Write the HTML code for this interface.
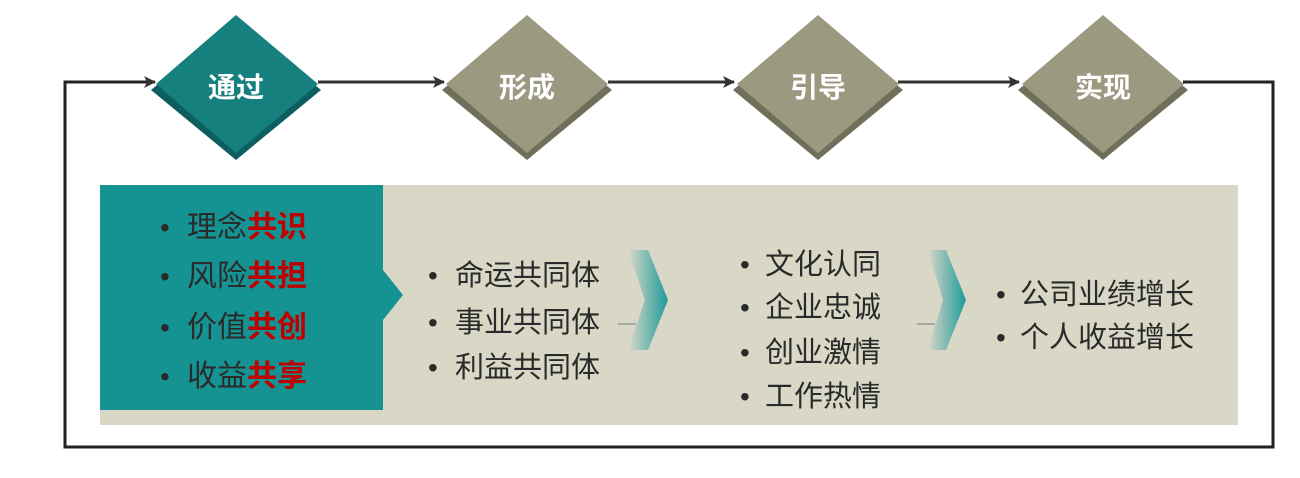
<!DOCTYPE html>
<html><head><meta charset="utf-8"><style>
body{margin:0;background:#fff;width:1300px;height:478px;overflow:hidden;position:relative;font-family:"Liberation Sans","Noto Sans CJK SC",sans-serif}
.t{position:absolute;white-space:nowrap;color:#2a2a2a;font-size:29px;line-height:34px}
.b{position:absolute;color:#2a2a2a;font-size:28px;line-height:34px;font-family:"Liberation Sans",sans-serif}
.r{color:#c00000;font-weight:bold}
</style></head><body>
<svg width="1300" height="478" style="position:absolute;left:0;top:0">
<defs>
<marker id="a" markerWidth="12" markerHeight="12" refX="11" refY="6" orient="auto" markerUnits="userSpaceOnUse"><path d="M0,0 L12,6 L0,12 L3,6z" fill="#333"/></marker>
<linearGradient id="g" x1="0" x2="1"><stop offset="0" stop-color="#d8d8c8"/><stop offset="1" stop-color="#1e9a9a"/></linearGradient>
</defs>
<rect x="100" y="185" width="1138" height="240" fill="#d9d8c6"/>
<polygon points="100,185 383,185 383,270 403,295 383,320 383,410 100,410" fill="#159393"/>
<polygon points="628,250 648,250 668,300 648,350 628,350 645,300" fill="url(#g)"/>
<polygon points="928,250 946,250 966,300 946,350 928,350 943,300" fill="url(#g)"/>
<line x1="618" y1="324" x2="636" y2="324" stroke="#999" stroke-width="1.5"/>
<line x1="917" y1="324" x2="935" y2="324" stroke="#999" stroke-width="1.5"/>
<path d="M1183,82 H1273 V447 H65 V82 H155" fill="none" stroke="#222" stroke-width="3" marker-end="url(#a)"/>
<line x1="318" y1="82" x2="444" y2="82" stroke="#333" stroke-width="3" marker-end="url(#a)"/>
<line x1="608" y1="82" x2="734" y2="82" stroke="#333" stroke-width="3" marker-end="url(#a)"/>
<line x1="898" y1="82" x2="1019" y2="82" stroke="#333" stroke-width="3" marker-end="url(#a)"/>
<g>
<polygon points="236,20 321,90 236,160 151,90" fill="#0d5f5f"/>
<polygon points="236,15 318,84 236,153 156,84" fill="#16807f"/>
<polygon points="527,20 612,90 527,160 442,90" fill="#6f6f5a"/>
<polygon points="527,15 608,84 527,153 446,84" fill="#9b9a80"/>
<polygon points="818,20 903,90 818,160 733,90" fill="#6f6f5a"/>
<polygon points="818,15 899,84 818,153 737,84" fill="#9b9a80"/>
<polygon points="1103,20 1188,90 1103,160 1018,90" fill="#6f6f5a"/>
<polygon points="1103,15 1184,84 1103,153 1022,84" fill="#9b9a80"/>
</g>
<g font-family="Liberation Sans,Noto Sans CJK SC,sans-serif" font-size="28" font-weight="bold" fill="#fff" text-anchor="middle">
<text x="236" y="97">通过</text><text x="527" y="97">形成</text><text x="818" y="97">引导</text><text x="1103" y="97">实现</text>
</g>
</svg>
<div class="b" style="left:160px;top:211px">•</div><div class="t" style="left:187px;top:211px;font-size:30px">理念<span class="r">共识</span></div>
<div class="b" style="left:160px;top:260px">•</div><div class="t" style="left:187px;top:260px;font-size:30px">风险<span class="r">共担</span></div>
<div class="b" style="left:160px;top:311px">•</div><div class="t" style="left:187px;top:311px;font-size:30px">价值<span class="r">共创</span></div>
<div class="b" style="left:160px;top:360px">•</div><div class="t" style="left:187px;top:360px;font-size:30px">收益<span class="r">共享</span></div>
<div class="b" style="left:428px;top:259px">•</div><div class="t" style="left:455px;top:259px">命运共同体</div>
<div class="b" style="left:428px;top:306px">•</div><div class="t" style="left:455px;top:306px">事业共同体</div>
<div class="b" style="left:428px;top:351px">•</div><div class="t" style="left:455px;top:351px">利益共同体</div>
<div class="b" style="left:740px;top:248px">•</div><div class="t" style="left:765px;top:248px">文化认同</div>
<div class="b" style="left:740px;top:291px">•</div><div class="t" style="left:765px;top:291px">企业忠诚</div>
<div class="b" style="left:740px;top:336px">•</div><div class="t" style="left:765px;top:336px">创业激情</div>
<div class="b" style="left:740px;top:380px">•</div><div class="t" style="left:765px;top:380px">工作热情</div>
<div class="b" style="left:996px;top:278px">•</div><div class="t" style="left:1020px;top:278px">公司业绩增长</div>
<div class="b" style="left:996px;top:321px">•</div><div class="t" style="left:1020px;top:321px">个人收益增长</div>
</body></html>
